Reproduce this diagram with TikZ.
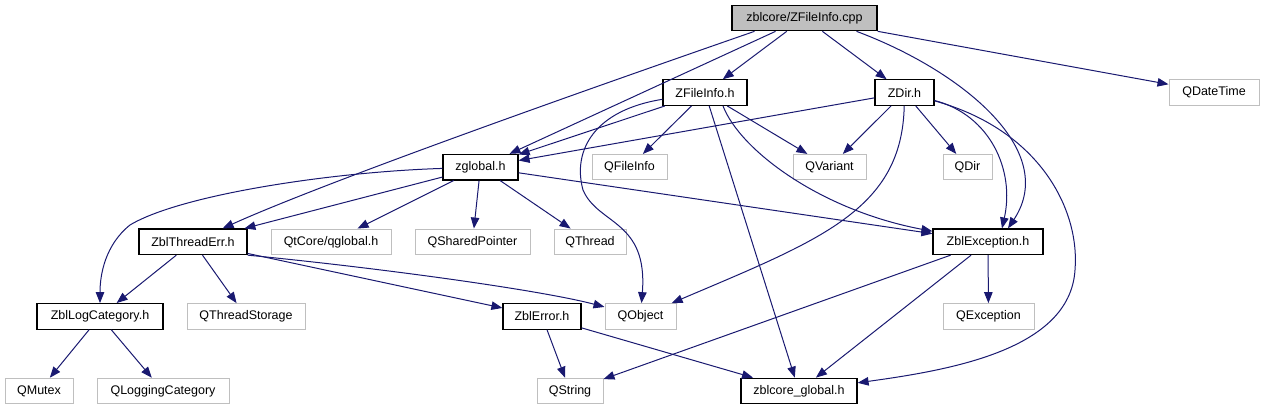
\documentclass[tikz,border=0pt]{standalone}
\usepackage{fontspec}
\setmainfont{Liberation Sans}
\usetikzlibrary{arrows.meta}
\definecolor{edgecolor}{RGB}{25, 25, 112}
\definecolor{extcolor}{RGB}{191, 191, 191}

\begin{document}
\begin{tikzpicture}[x=1pt, y=-1pt,
    file/.style={draw=black, line width=1.2pt, fill=white, minimum height=25.5pt, inner sep=0pt, font=\fontsize{12.5}{14}\selectfont},
    ext/.style={file, draw=extcolor, line width=1pt},
    root/.style={file, fill=extcolor},
    arc/.style={draw, edgecolor, line width=1pt, -{Triangle[length=11pt, width=8.5pt]}}
    ]
    \useasboundingbox (0,0) rectangle (1264,411);

    % name/left/right/row/style/label
    \newcommand{\vertices}{
        cpp/732/877/0/root/{zblcore/ZFileInfo.cpp},
        zfi/663/747/1/file/{ZFileInfo.h},
        zdir/875/934/1/file/{ZDir.h},
        qdt/1169/1259/1/ext/{QDateTime},
        zg/443/518/2/file/{zglobal.h},
        qfi/592/667/2/ext/{QFileInfo},
        qvar/793/866/2/ext/{QVariant},
        qdir/943/992/2/ext/{QDir},
        zte/139/247/3/file/{ZblThreadErr.h},
        qtg/271/391/3/ext/{QtCore/qglobal.h},
        qsp/415/530/3/ext/{QSharedPointer},
        qthr/554/626/3/ext/{QThread},
        zex/933/1043/3/file/{ZblException.h},
        zlc/37/163/4/file/{ZblLogCategory.h},
        qts/187/305/4/ext/{QThreadStorage},
        zerr/503/581/4/file/{ZblError.h},
        qobj/605/676/4/ext/{QObject},
        qexc/943/1034/4/ext/{QException},
        qmtx/5/73/5/ext/{QMutex},
        qlc/97/229/5/ext/{QLoggingCategory},
        qstr/537/603/5/ext/{QString},
        zcg/741/857/5/file/{zblcore\_global.h}%
    }
    \newcommand{\straightarcs}{%
        cpp/zfi, cpp/zdir, cpp/qdt, cpp/zg,
        zfi/zg, zfi/qfi, zfi/qvar, zfi/zcg,
        zdir/zg, zdir/qvar, zdir/qdir,
        zg/zte, zg/qtg, zg/qsp, zg/qthr, zg/zex,
        zte/zlc, zte/qts, zte/zerr,
        zex/qstr, zex/zcg, zex/qexc,
        zerr/qstr, zerr/zcg,
        zlc/qmtx, zlc/qlc%
    }

    % Define vertices
    \foreach \name/\xl/\xr/\row/\kind/\lbl in \vertices {
        \pgfmathsetmacro{\cx}{(\xl+\xr)/2}
        \pgfmathsetmacro{\boxwd}{\xr-\xl}
        \pgfmathsetmacro{\cy}{18+74.6*\row}
        \node[\kind, minimum width=\boxwd pt, at={(\cx,\cy)}, name=\name] {\lbl};
    }

    % Define edges
    \foreach \a/\b in \straightarcs {
        \draw[arc] (\a) -- (\b);
    }
    \draw[arc] ([xshift=-50pt]cpp.south) .. controls (600,85) and (330,180) .. (zte);
    \draw[arc] ([xshift=52pt]cpp.south) .. controls (960,70) and (1060,150) .. ([xshift=20pt]zex.north);
    \draw[arc] ([xshift=18pt]zfi.south) .. controls (740,150) and (820,210) .. (zex);
    \draw[arc] (zfi) .. controls (595,110) and (572,150) .. (583,190)
                     .. controls (598,225) and (648,220) .. (qobj);
    \draw[arc] (zdir) .. controls (902,210) and (820,240) .. (qobj);
    \draw[arc] (zdir) .. controls (990,115) and (1015,170) .. ([xshift=14pt]zex.north);
    \draw[arc] (zdir) .. controls (1040,130) and (1080,210) .. (1075,270)
                      .. controls (1070,350) and (950,370) .. (zcg);
    \draw[arc] (zg) .. controls (330,172) and (180,195) .. (130,225)
                    .. controls (105,245) and (100,275) .. (zlc);
    \draw[arc] (zte.south east) .. controls (380,268) and (540,290) .. (qobj);
\end{tikzpicture}
\end{document}
